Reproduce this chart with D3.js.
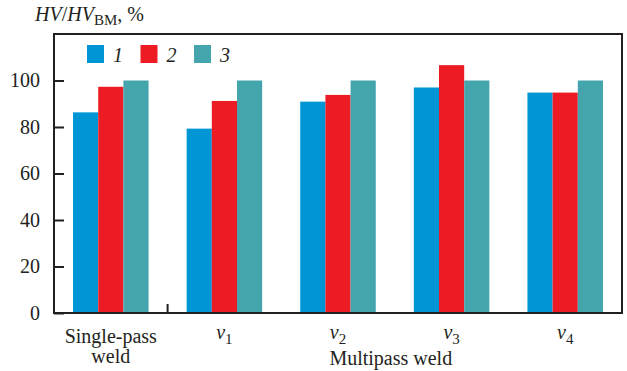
<!DOCTYPE html>
<html>
<head>
<meta charset="utf-8">
<script src="https://cdn.jsdelivr.net/npm/d3@7"></script>
<style>
  text, tspan { font-family: 'Liberation Serif', 'Times New Roman', Tinos, serif !important; }
</style>
</head>
<body style="margin:0; background:#fff">
<script>
// data
var categories = ["Single-pass weld", "v1", "v2", "v3", "v4"];
var seriesNames = ["1", "2", "3"];
var series1 = [86.3, 79.3, 90.9, 97.0, 94.8];
var series2 = [97.3, 91.2, 93.8, 106.6, 94.8];
var series3 = [100, 100, 100, 100, 100];
var yTicks = [0, 20, 40, 60, 80, 100];
var colors = ["#0096d6", "#ed1c24", "#45a5ad"];

var width = 627,
    height = 371;
var margin = {left: 54, right: 5, top: 34, bottom: 58};
var ink = "#231f20";
var serif = "Times New Roman";

var svg = d3.select("body").append("svg")
    .attr("width", width)
    .attr("height", height)
    .attr("font-family", serif)
    .style("display", "block");

var x0 = d3.scaleBand()
    .domain(categories)
    .range([margin.left, width - margin.right])
    .paddingInner(0.335)
    .paddingOuter(0.1675);

var x1 = d3.scaleBand()
    .domain(seriesNames)
    .range([0, x0.bandwidth()])
    .padding(0);

var y = d3.scaleLinear()
    .domain([0, 120])
    .range([height - margin.bottom, margin.top]);

var rows = categories.map(function(c, i) {
  return {cat: c, vals: [series1[i], series2[i], series3[i]]};
});

// bars
var groups = svg.append("g").selectAll("g")
  .data(rows)
  .enter().append("g")
    .attr("transform", function(d) { return "translate(" + x0(d.cat) + ",0)"; });

groups.selectAll("rect")
  .data(function(d) { return d.vals.map(function(v, j) { return {key: seriesNames[j], v: v, j: j}; }); })
  .enter().append("rect")
    .attr("x", function(d) { return x1(d.key); })
    .attr("y", function(d) { return y(d.v); })
    .attr("width", x1.bandwidth())
    .attr("height", function(d) { return y(0) - y(d.v); })
    .style("fill", function(d) { return colors[d.j]; });

// frame
svg.append("rect")
    .attr("x", margin.left)
    .attr("y", margin.top)
    .attr("width", width - margin.right - margin.left)
    .attr("height", y(0) - margin.top)
    .style("fill", "none")
    .style("stroke", ink)
    .style("stroke-width", 2);

// y axis, ticks inside
var yAxis = d3.axisLeft(y)
    .tickValues(yTicks)
    .tickSize(-10)
    .tickPadding(14);

var ya = svg.append("g")
    .attr("transform", "translate(" + margin.left + ",0)")
    .call(yAxis)
    .attr("font-family", serif)
    .attr("font-size", 20);
ya.select(".domain").remove();
ya.selectAll("line").style("stroke", ink).style("stroke-width", 2);
ya.selectAll("text").style("fill", ink);

// separator between single-pass and multipass
var sepX = (x0(categories[0]) + x0.bandwidth() + x0(categories[1])) / 2;
svg.append("line")
    .attr("x1", sepX).attr("x2", sepX)
    .attr("y1", y(0)).attr("y2", y(0) - 9)
    .style("stroke", ink)
    .style("stroke-width", 2);

// category labels
var catLabels = svg.append("g").selectAll("text")
  .data(categories)
  .enter().append("text")
    .attr("x", function(d) { return x0(d) + x0.bandwidth() / 2; })
    .attr("y", function(d) { return d.charAt(0) == "v" ? 339 : 343; })
    .attr("text-anchor", "middle")
    .attr("font-family", serif)
    .attr("font-size", 20)
    .style("fill", ink);

catLabels.each(function(d) {
  var t = d3.select(this);
  if (d.charAt(0) == "v") {
    t.append("tspan").attr("font-style", "italic").text("v");
    t.append("tspan").attr("dy", 5).attr("font-size", 15).text(d.slice(1));
  } else {
    var parts = d.split(" ");
    t.append("tspan").attr("x", t.attr("x")).text(parts[0]);
    t.append("tspan").attr("x", t.attr("x")).attr("dy", 20).text(parts[1]);
  }
});

// group title for multipass
var mx = (x0(categories[1]) + x0(categories[4]) + x0.bandwidth()) / 2;
svg.append("text")
    .attr("x", mx - 4)
    .attr("y", 365)
    .attr("text-anchor", "middle")
    .attr("font-family", serif)
    .attr("font-size", 20)
    .style("fill", ink)
    .text("Multipass weld");

// y title
var yt = svg.append("text")
    .attr("x", 35)
    .attr("y", 21)
    .attr("font-family", serif)
    .attr("font-size", 20)
    .style("fill", ink);
yt.append("tspan").attr("font-style", "italic").text("HV");
yt.append("tspan").text("/");
yt.append("tspan").attr("font-style", "italic").text("HV");
yt.append("tspan").attr("dy", 4).attr("font-size", 15).text("BM");
yt.append("tspan").attr("dy", -4).text(", %");

// legend
var legend = svg.append("g").selectAll("g")
  .data(seriesNames)
  .enter().append("g")
    .attr("transform", function(d, i) { return "translate(" + (87 + i * 53.5) + ",45)"; });

legend.append("rect")
    .attr("width", 17)
    .attr("height", 18)
    .style("fill", function(d, i) { return colors[i]; });

legend.append("text")
    .attr("x", 26)
    .attr("y", 17)
    .attr("font-family", serif)
    .attr("font-size", 20)
    .attr("font-style", "italic")
    .style("fill", ink)
    .text(function(d) { return d; });
</script>
</body>
</html>
